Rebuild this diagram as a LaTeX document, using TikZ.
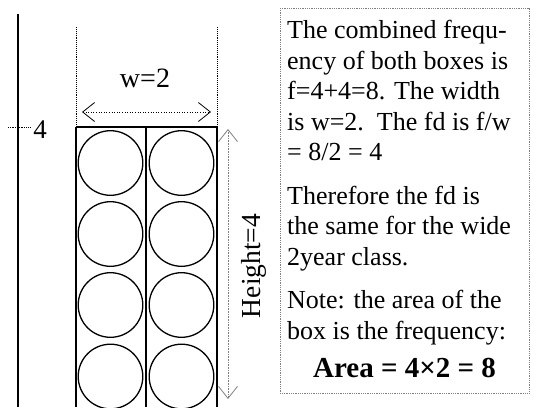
\documentclass[tikz,border=0pt]{standalone}
\usepackage{fontspec}
\setmainfont{Liberation Serif}
\usetikzlibrary{positioning, arrows.meta}

\begin{document}
\begin{tikzpicture}[x=1pt, y=-1pt, >={Straight Barb[length=12pt, width=19pt, line width=0.8pt]}]

    % --- 画布大小 ---
    \useasboundingbox (0,0) rectangle (538,407);

    % --- 定义关键点坐标 ---
    \coordinate (Ax_top) at (18, 14);
    \coordinate (Ax_bot) at (18, 407);
    \coordinate (Tick_L) at (8, 127);
    \coordinate (Tick_R) at (31, 127);
    \coordinate (L_top) at (76, 27);
    \coordinate (L_box) at (76, 127);
    \coordinate (M_box) at (146, 127);
    \coordinate (R_top) at (217, 27);
    \coordinate (R_box) at (217, 127);
    \coordinate (W_L) at (82, 112);
    \coordinate (W_R) at (211, 112);
    \coordinate (H_top) at (228, 129);
    \coordinate (H_bot) at (228, 399);

    % --- 纵轴与刻度 ---
    \draw[line width=1.6pt] (Ax_top) -- (Ax_bot);
    \draw[densely dotted, line width=0.8pt] (Tick_L) -- (Tick_R);
    \node[font=\fontsize{27}{27}\selectfont] (four) at (40, 130) {4};

    % --- 两个矩形框 ---
    \draw[line width=1.5pt] (L_box) -- (R_box);
    \draw[line width=1.5pt] (L_box) -- (76, 407);
    \draw[line width=1.5pt] (M_box) -- (146, 407);
    \draw[line width=1.5pt] (R_box) -- (217, 407);

    % --- 圆 (每格一个单位) ---
    \foreach \cx in {110.5, 181.5}
      \foreach \cy in {163, 234, 305, 376.5}
        \draw[line width=1.3pt] (\cx, \cy) circle (32.3);

    % --- 宽度 w=2 ---
    \draw[densely dotted, line width=0.9pt] (L_top) -- (L_box);
    \draw[densely dotted, line width=0.9pt] (R_top) -- (R_box);
    \draw[dotted, line width=0.6pt, <->] (W_L) -- (W_R);
    \node[font=\fontsize{28}{28}\selectfont] (w_lbl) at (145, 78) {w=2};

    % --- 高度 Height=4 ---
    \draw[densely dotted, gray, line width=0.6pt, <->] (H_top) -- (H_bot);
    \node[rotate=90, font=\fontsize{27.5}{27.5}\selectfont] (h_lbl) at (254, 266) {Height=4};

    % --- 说明文字框 ---
    \draw[densely dotted, gray, line width=0.8pt] (280, 8) rectangle (529, 393);
    \node[anchor=north west, inner sep=0pt, align=left,
          font=\fontsize{26}{30.5}\selectfont] (note) at (287, 20)
      {The combined frequ-\\
       ency of both boxes is\\
       f=4+4=8. The width\\
       is w=2.\ \ The fd is f/w\\
       = 8/2 = 4\\[13pt]
       Therefore the fd is\\
       the same for the wide\\
       2year class.\\[13pt]
       Note: the area of the\\
       box is the frequency:};
    \node[anchor=base, font=\bfseries\fontsize{29}{30}\selectfont] (area) at (404.5, 377)
      {Area = 4×2 = 8};

\end{tikzpicture}
\end{document}
